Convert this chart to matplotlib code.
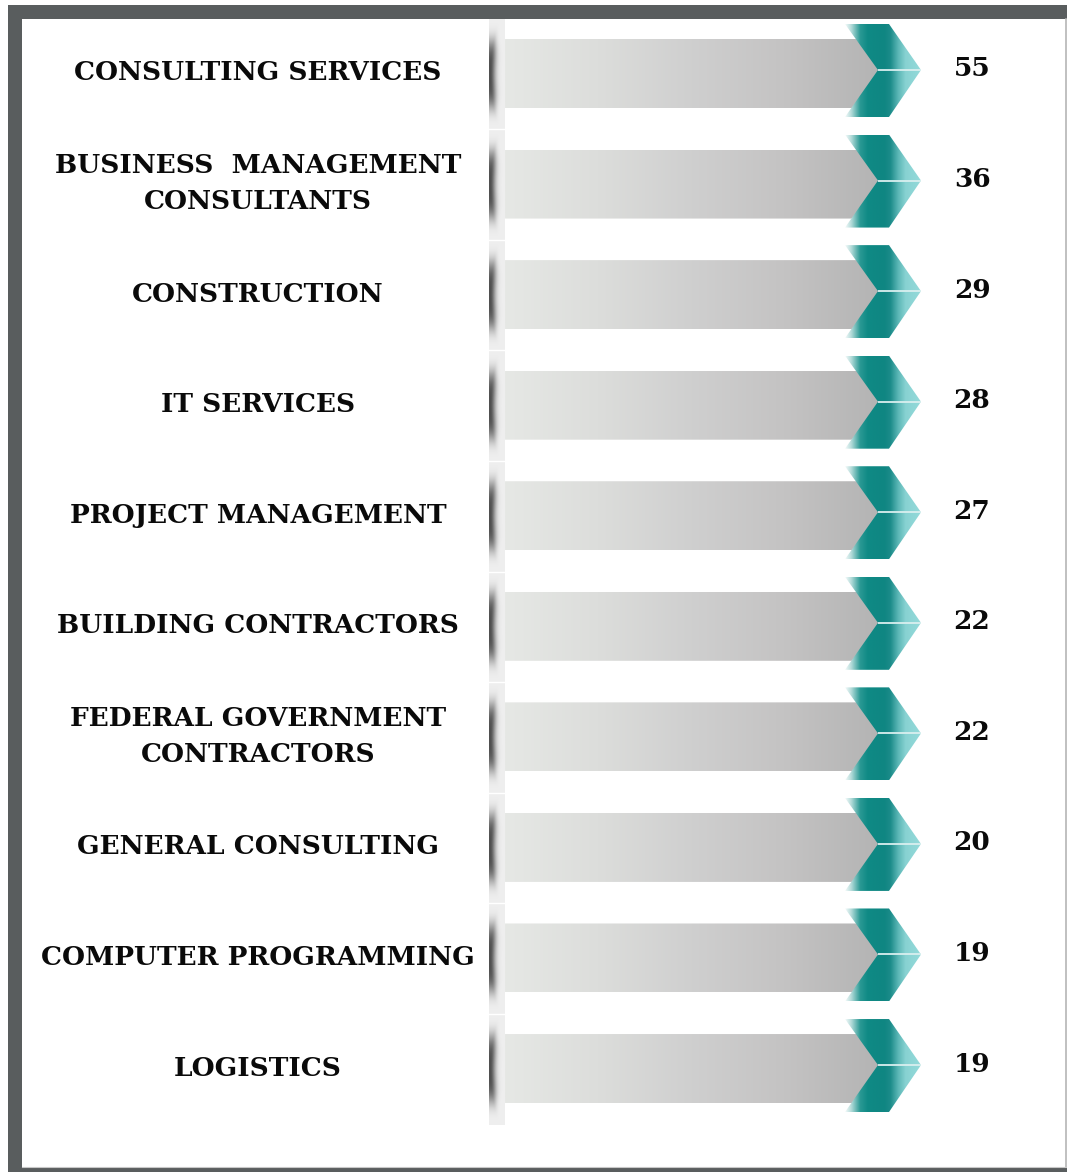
import numpy as np
import matplotlib
matplotlib.use("Agg")
import matplotlib.pyplot as plt
from matplotlib.patches import Polygon, Rectangle
from matplotlib.colors import LinearSegmentedColormap, to_rgb

# ---- data ----
categories = [
    "CONSULTING SERVICES",
    "BUSINESS  MANAGEMENT\nCONSULTANTS",
    "CONSTRUCTION",
    "IT SERVICES",
    "PROJECT MANAGEMENT",
    "BUILDING CONTRACTORS",
    "FEDERAL GOVERNMENT\nCONTRACTORS",
    "GENERAL CONSULTING",
    "COMPUTER PROGRAMMING",
    "LOGISTICS",
]
values = [55, 36, 29, 28, 27, 22, 22, 20, 19, 19]

# ---- layout (pixels) ----
W, H = 1067, 1172
FRAME = "#595d5e"
row0, row_step = 70, 110.56

fig = plt.figure(figsize=(W / 100, H / 100), dpi=100)
ax = fig.add_axes([0, 0, 1, 1])
ax.set_xlim(0, W)
ax.set_ylim(H, 0)
ax.axis("off")

# frame
ax.add_patch(Rectangle((8, 5), W - 8, 14, color=FRAME, lw=0, zorder=5))
ax.add_patch(Rectangle((8, 5), 14, H - 5, color=FRAME, lw=0, zorder=5))
ax.add_patch(Rectangle((8, 1167.5), W - 8, 10, color=FRAME, lw=0, zorder=5))
ax.plot([1065.5, 1065.5], [19, 1167], color="#b5b5b5", lw=1.2, zorder=5)
ax.plot([22, W], [1167.2, 1167.2], color="#c8c8c8", lw=0.8, zorder=5)

bar_cmap = LinearSegmentedColormap.from_list(
    "bar", ["#e6e8e5", "#dcdddb", "#cfcfcf", "#c4c3c3", "#b4b4b4"])
chev_cmap = LinearSegmentedColormap.from_list(
    "chev", [(0.0, "#f6fbfb"), (0.08, "#b5dcda"), (0.2, "#2a9994"),
             (0.3, "#0f8a85"), (0.52, "#0f8682"), (0.6, "#1c8c8a"),
             (0.7, "#5ab6b5"), (0.8, "#88d2d2"), (1.0, "#94dada")])

grad = np.linspace(0, 1, 256).reshape(1, -1)

# separator strip
strip_x0, strip_x1 = 489, 505
ny = 1125 - 19
nx = 64
ys = np.linspace(19, 1125, ny * 2)
xs = np.linspace(strip_x0, strip_x1, nx)
X, Y = np.meshgrid(xs, ys)
dark = np.zeros_like(X)
for i in range(len(categories)):
    yc = row0 + i * row_step + 4
    t = (Y - yc) / 34.0
    A = np.exp(-t ** 4)
    xc = 490.0 + 3.0 * np.minimum(t ** 2, 3)
    w = 3.0 + 2.5 * A
    dark = np.maximum(dark, 0.85 * A * np.exp(-(np.clip(X - xc, 0, None) / w) ** 2))
base = np.array(to_rgb("#efefef"))
shadow = np.array(to_rgb("#333333"))
img = base[None, None, :] * (1 - dark[..., None]) + shadow[None, None, :] * dark[..., None]
ax.imshow(img, extent=(strip_x0, strip_x1, 1125, 19), aspect="auto",
          interpolation="bilinear", zorder=1)
for i in range(1, len(categories)):
    yb = row0 + (i - 0.5) * row_step + 4
    ax.plot([strip_x0, strip_x1], [yb, yb], color="white", lw=1.0, zorder=1.5)

for i, (cat, val) in enumerate(zip(categories, values)):
    yc = row0 + i * row_step
    # gray bar
    top, bot = yc - 31, yc + 38
    bar = Polygon([(505, top), (870, top), (878, yc), (870, bot), (505, bot)],
                  closed=True, fc="none", ec="none")
    ax.add_patch(bar)
    im = ax.imshow(grad, cmap=bar_cmap, extent=(505, 878, bot, top),
                   aspect="auto", zorder=2)
    im.set_clip_path(bar)

    # teal chevron
    ct, cb = yc - 46, yc + 47
    chev = Polygon([(845, ct), (889, ct), (921, yc), (889, cb), (845, cb), (878, yc)],
                   closed=True, fc="none", ec="none")
    ax.add_patch(chev)
    im2 = ax.imshow(grad, cmap=chev_cmap, extent=(845, 921, cb, ct),
                    aspect="auto", zorder=3)
    im2.set_clip_path(chev)
    ax.plot([878, 921], [yc, yc], color="#d9efef", lw=1.3, zorder=3.5,
            solid_capstyle="butt")

    # label
    ax.text(258, yc + 3, cat, ha="center", va="center", family="DejaVu Serif",
            fontweight="bold", fontsize=19, linespacing=1.55, color="#0a0a0a",
            zorder=4)
    # value
    ax.text(972, yc - 1, str(val), ha="center", va="center",
            family="DejaVu Serif", fontweight="bold", fontsize=19,
            color="#0a0a0a", zorder=4)

fig.savefig("out.png", dpi=100, facecolor="white")
